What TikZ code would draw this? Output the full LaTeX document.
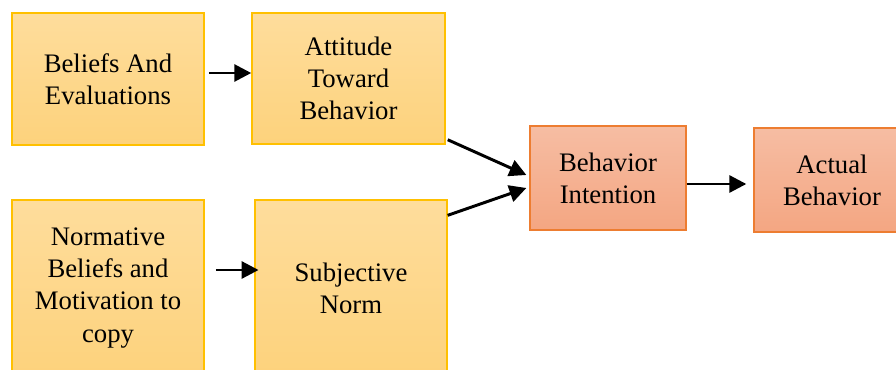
\documentclass[tikz,border=0pt]{standalone}
\usepackage{fontspec}
\setmainfont{Liberation Serif}
\usetikzlibrary{arrows.meta}
\definecolor{goldtop}{HTML}{FEDD9C}
\definecolor{goldbot}{HTML}{FDD27C}
\definecolor{goldline}{HTML}{FFC000}
\definecolor{salmtop}{HTML}{F6BDA3}
\definecolor{salmbot}{HTML}{F4A682}
\definecolor{salmline}{HTML}{ED7D31}

\begin{document}
\begin{tikzpicture}[x=0.025cm,y=-0.025cm,
  every node/.style={font=\fontsize{19}{22.8}\selectfont,align=center},
  goldbox/.style={draw=goldline,line width=0.9pt,top color=goldtop,bottom color=goldbot},
  salmbox/.style={draw=salmline,line width=0.9pt,top color=salmtop,bottom color=salmbot},
  arr/.style={line width=2.1pt,-{Triangle[length=12pt,width=12pt]}}]
\useasboundingbox (0,0) rectangle (896,369);
\clip (0,0) rectangle (896,369);
% first row
\node[goldbox,minimum width=4.8cm,minimum height=3.3cm] (belief) at (108,79) {Beliefs And\\Evaluations};
\node[goldbox,minimum width=4.83cm,minimum height=3.28cm] (attitude) at (348.5,78.5) {Attitude\\Toward\\Behavior};
% second row
\node[goldbox,minimum width=4.8cm,minimum height=4.4cm] (normbel) at (108,288) {Normative\\Beliefs and\\Motivation to\\copy};
\node[goldbox,minimum width=4.8cm,minimum height=4.4cm] (subnorm) at (351,288) {Subjective\\Norm};
% right side
\node[salmbox,minimum width=3.9cm,minimum height=2.6cm] (intent) at (608,178) {Behavior\\Intention};
\node[salmbox,minimum width=3.9cm,minimum height=2.6cm] (actual) at (832,180) {Actual\\Behavior};
% arrows
\draw[arr] ([xshift=3]belief.east |- 0,73) -- (attitude.west |- 0,73);
\draw[arr] ([xshift=8]normbel.east |- 0,270) -- ([xshift=3]subnorm.west |- 0,270);
\draw[arr] ([shift={(2,-5)}]attitude.south east) -- ([shift={(-3,-3)}]intent.west);
\draw[arr] ([shift={(0,16)}]subnorm.north east) -- ([shift={(-3,10)}]intent.west);
\draw[arr] (intent.east |- 0,184) -- ([xshift=-5]actual.west |- 0,184);
\end{tikzpicture}
\end{document}
